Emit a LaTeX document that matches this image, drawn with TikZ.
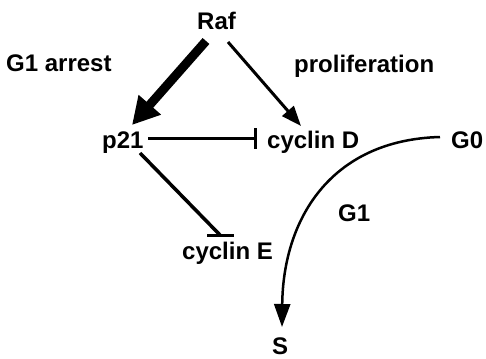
\documentclass[tikz,border=0pt]{standalone}
\usepackage{fontspec}
\setmainfont{Liberation Sans}
\usetikzlibrary{arrows.meta}
\tikzset{
  lbl/.style={anchor=base west, inner sep=0pt, font=\fontsize{24}{28}\selectfont\bfseries},
  act/.style={line width=3pt, -{Triangle[length=20pt,width=15pt]}},
  inh/.style={line width=3pt},
}
\begin{document}
\begin{tikzpicture}[x=1pt,y=-1pt]
\useasboundingbox (0,0) rectangle (486,358);
\node[lbl] (raf) at (197,30) {Raf};
\node[lbl] (arrest) at (6,72) {G1 arrest};
\node[lbl] (prolif) at (294,73) {proliferation};
\node[lbl] (p21) at (102,148) {p21};
\node[lbl] (cycD) at (267,148) {cyclin D};
\node[lbl] (g0) at (451,148) {G0};
\node[lbl] (g1) at (338,221) {G1};
\node[lbl] (cycE) at (182,259) {cyclin E};
\node[lbl] (s) at (272,354) {S};
% endpoints
\coordinate (rafA) at (206,41);
\coordinate (p21tip) at (132,125);
\coordinate (rafB) at (228,42);
\coordinate (cycDtip) at (301,126);
\coordinate (p21R) at (148,138.5);
\coordinate (cycDbar) at (257,138.5);
\coordinate (p21D) at (140,153);
\coordinate (cycEbar) at (220,235);
\coordinate (g0L) at (440,137);
\coordinate (stip) at (282,327);
\draw[line width=9pt, -{Triangle[length=27pt,width=28pt]}] (rafA) -- (p21tip);
\draw[act] (rafB) -- (cycDtip);
\draw[inh, -{Bar[width=20pt,line width=3pt]}] (p21R) -- (cycDbar);
\draw[line width=3.5pt] (p21D) -- (cycEbar);
\draw[line width=3pt] ([xshift=-13pt]cycEbar) -- ([xshift=14pt]cycEbar);
\draw[line width=2.5pt, -{Triangle[length=23pt,width=16pt]}] (g0L) .. controls (330,140) and (283,220) .. (stip);
\end{tikzpicture}
\end{document}
